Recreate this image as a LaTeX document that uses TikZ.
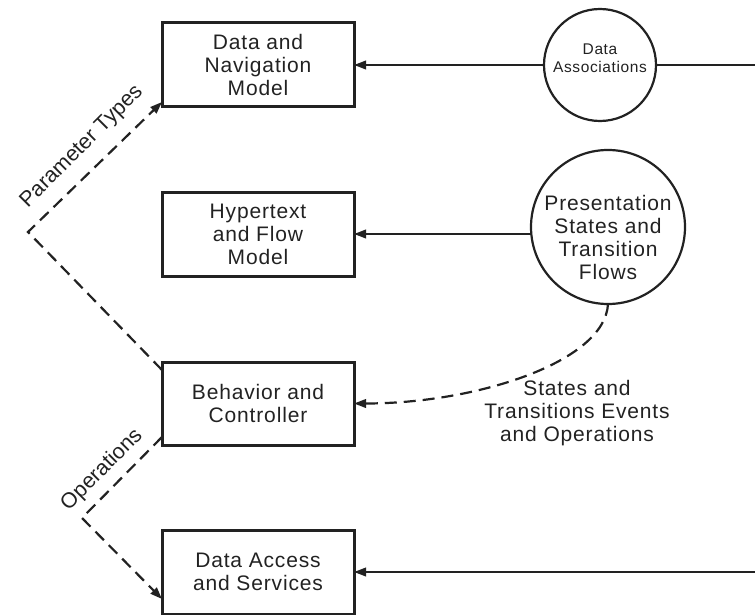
\documentclass[tikz,border=0pt]{standalone}
\usepackage{fontspec}
\setmainfont{Liberation Sans}[LetterSpace=4]
\newfontfamily\slantlabelfont{Liberation Sans}
\usetikzlibrary{arrows.meta}
\definecolor{ink}{HTML}{222222}

\begin{document}
\begin{tikzpicture}[x=1pt,y=-1pt,
  every node/.style={text=ink},
  modelbox/.style={draw=ink, line width=3pt, minimum width=192pt,
    minimum height=84pt, inner sep=0pt, outer sep=0pt, align=center,
    font=\fontsize{21}{23}\selectfont},
  bubble/.style={draw=ink, circle, line width=2.2pt, inner sep=0pt, outer sep=0pt},
  caption/.style={align=center, inner sep=0pt, font=\fontsize{21}{23}\selectfont},
  slantcaption/.style={inner sep=0pt, rotate=45, font=\slantlabelfont\fontsize{21.5}{23}\selectfont},
  link/.style={draw=ink, line width=2.2pt},
  dashlink/.style={link, dash pattern=on 12pt off 7pt},
  tip/.style={-{Triangle[length=12pt,width=8.5pt]}}]

\useasboundingbox (0,0) rectangle (755,615);

% model boxes
\node[modelbox] (dnm) at (258,65)  {Data and\\Navigation\\Model};
\node[modelbox] (hfm) at (258,234) {Hypertext\\and Flow\\Model};
\node[modelbox, minimum height=83pt] (bc) at (258,403.5) {Behavior and\\Controller};
\node[modelbox] (das) at (258,572) {Data Access\\and Services};

% bubbles
\node[bubble, minimum size=112pt] (assoc) at (600,65) {};
\node[caption, font=\fontsize{15.5}{17.5}\selectfont] (assoctxt) at (600,58) {Data\\Associations};
\node[bubble, minimum size=154pt] (pres) at (608,227) {};
\node[caption] (prestxt) at (608,237) {Presentation\\States and\\Transition\\Flows};

% free ends at the right border
\coordinate (topin) at (755,65);
\coordinate (botin) at (755,572);

% solid flows
\draw[link] (topin) -- (assoc.east);
\draw[link, tip] (assoc.west) -- (dnm.east);
\draw[link, tip] (pres.west |- hfm.east) -- (hfm.east);
\draw[link, tip] (botin) -- (das.east);

% dashed flow from the presentation bubble to the controller
\draw[dashlink, tip] (pres.south) .. controls +(-3,58) and +(122,0) .. (bc.east);
\node[caption] (stlabel) at (577,413) {States and\\Transitions Events\\and Operations};

% parameter types
\coordinate (pbend) at (28,232);
\draw[dashlink, tip] ([yshift=-8pt]bc.north west) -- (pbend) -- ([yshift=5pt]dnm.south west);
\node[slantcaption] (ptlabel) at (82,147) {Parameter Types};

% operations
\coordinate (obend) at (82,518);
\draw[dashlink, tip] ([yshift=8pt]bc.south west) -- (obend) -- ([yshift=15pt]das.south west);
\node[slantcaption] (oplabel) at (102,470) {Operations};
\end{tikzpicture}
\end{document}
